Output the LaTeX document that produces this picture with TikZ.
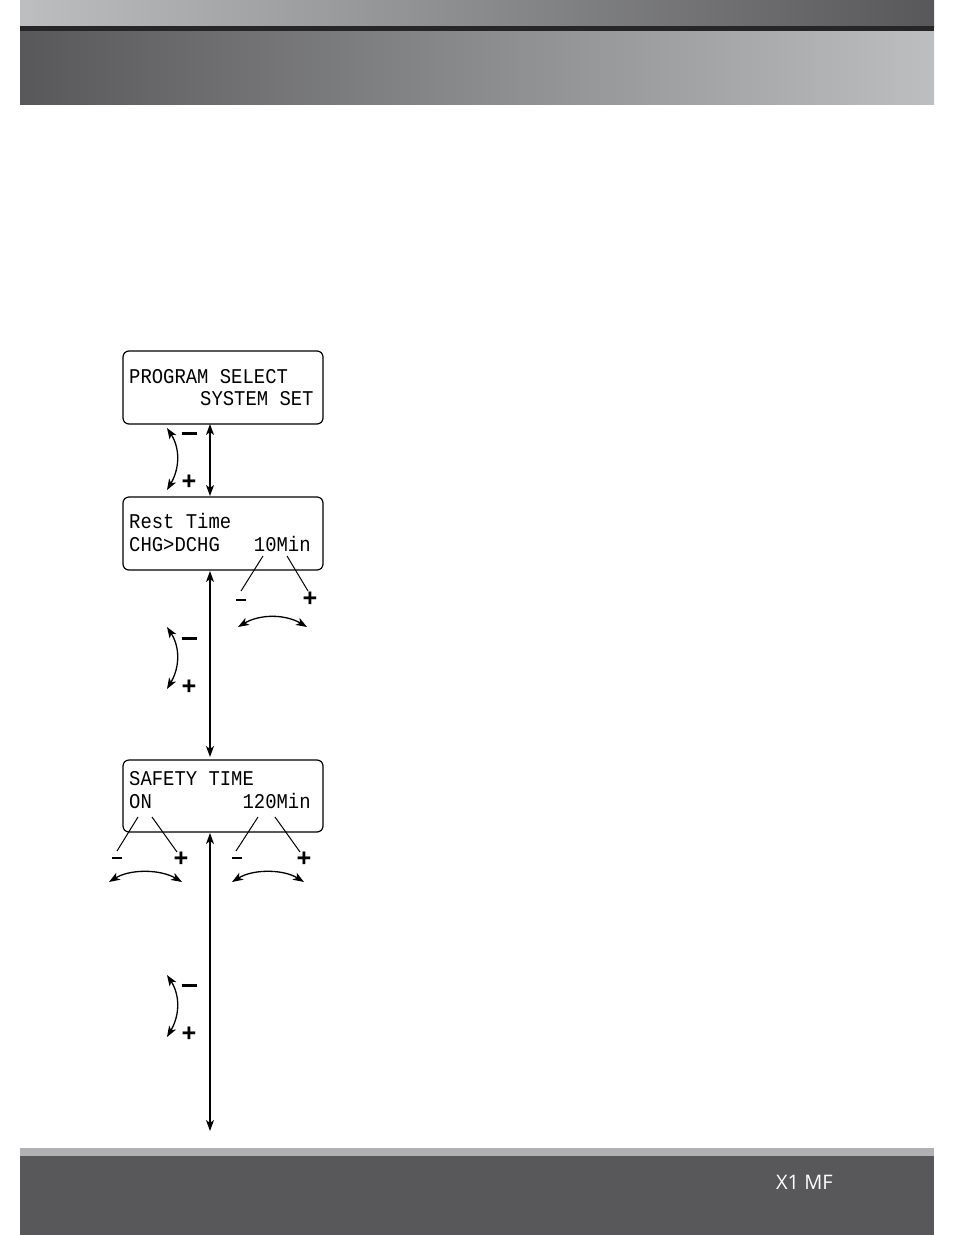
\documentclass[tikz,border=0pt]{standalone}
\usepackage{fontspec}
\setmainfont{Open Sans}
\newfontfamily\lcd{Liberation Mono}
\usetikzlibrary{arrows.meta}
\definecolor{foot}{HTML}{58585A}
\definecolor{gl}{HTML}{BDBEC0}
\definecolor{gd}{HTML}{58585B}
\begin{document}
\begin{tikzpicture}[x=1pt,y=-1pt,
  lcdbox/.style={draw,line width=1.2pt,rounded corners=6pt},
  lcdt/.style={anchor=base west,inner sep=0,font=\lcd\fontsize{21}{21}\selectfont,xscale=0.9},
  darr/.style={line width=1.3pt,{Stealth[length=11pt,width=8pt,inset=3pt]}-{Stealth[length=11pt,width=8pt,inset=3pt]}},
  sgn/.style={inner sep=0,font=\bfseries\fontsize{26}{26}\selectfont},
  lk/.style={line width=1pt}]
\useasboundingbox (0,0) rectangle (954,1235);
\fill[white] (0,0) rectangle (954,1235);
% header
\shade[left color=gl,right color=gd] (20,0) rectangle (934,27);
\fill[black!85] (20,26) rectangle (934,31);
\shade[left color=gd,right color=gl] (20,31) rectangle (934,104);
% footer
\fill[gl!80!gray] (20,1148) rectangle (934,1157);
\fill[foot] (20,1156) rectangle (934,1235);
\node[anchor=base west,text=white,font=\fontsize{20}{20}\selectfont,inner sep=0] (ft) at (776,1189) {X1 MF};
% boxes
\draw[lcdbox] (123,351) rectangle (323,424);
\node[lcdt] (t11) at (129,383) {PROGRAM SELECT};
\node[lcdt] (t12) at (200,405) {SYSTEM SET};
\draw[lcdbox] (123,497) rectangle (323,570);
\node[lcdt] (t21) at (129,528) {Rest Time};
\node[lcdt] (t22) at (129,551) {CHG>DCHG\ \ \ 10Min};
\draw[lcdbox] (123,760) rectangle (323,832);
\node[lcdt] (t31) at (129,785) {SAFETY TIME};
\node[lcdt] (t32) at (129,808) {ON\ \ \ \ \ \ \ \ 120Min};
% vertical arrows
\coordinate (v1a) at (210,424); \coordinate (v1b) at (210,496);
\coordinate (v2a) at (210,571); \coordinate (v2b) at (210,757);
\coordinate (v3a) at (210,833); \coordinate (v3b) at (210,1131);
\draw[darr] (v1a)--(v1b);
\draw[darr] (v2a)--(v2b);
\draw[darr] (v3a)--(v3b);
% curved left arrows
\foreach \y in {428,627,975}{
  \draw[darr] (167,\y) .. controls (180,\y+20) and (180,\y+40) .. (167,\y+62);
}
\foreach \y/\n in {433/a,638/b,985/c}{
  \node[sgn] (m\n) at (189,\y) {\rule{15pt}{3pt}};
  \node[sgn] (p\n) at (189,\y+50) {+};
}
% 10Min
\draw[lk] (263,556)--(241,591);
\draw[lk] (287,556)--(308,591);
\node[sgn] (m2) at (241,600) {\rule{10pt}{2.6pt}};
\node[sgn] (p2) at (310,600) {+};
\draw[darr] (238,627) .. controls (260,614) and (285,614) .. (307,627);
% ON
\draw[lk] (138,817)--(117,851);
\draw[lk] (152,817)--(177,852);
\node[sgn] (m3) at (117,858) {\rule{10pt}{2.6pt}};
\node[sgn] (p3) at (181,860) {+};
\draw[darr] (109,882) .. controls (130,869) and (160,869) .. (182,882);
% 120Min
\draw[lk] (258,817)--(236,851);
\draw[lk] (275,817)--(300,852);
\node[sgn] (m4) at (237,858) {\rule{10pt}{2.6pt}};
\node[sgn] (p4) at (304,860) {+};
\draw[darr] (232,882) .. controls (253,869) and (283,869) .. (304,882);
\end{tikzpicture}
\end{document}
